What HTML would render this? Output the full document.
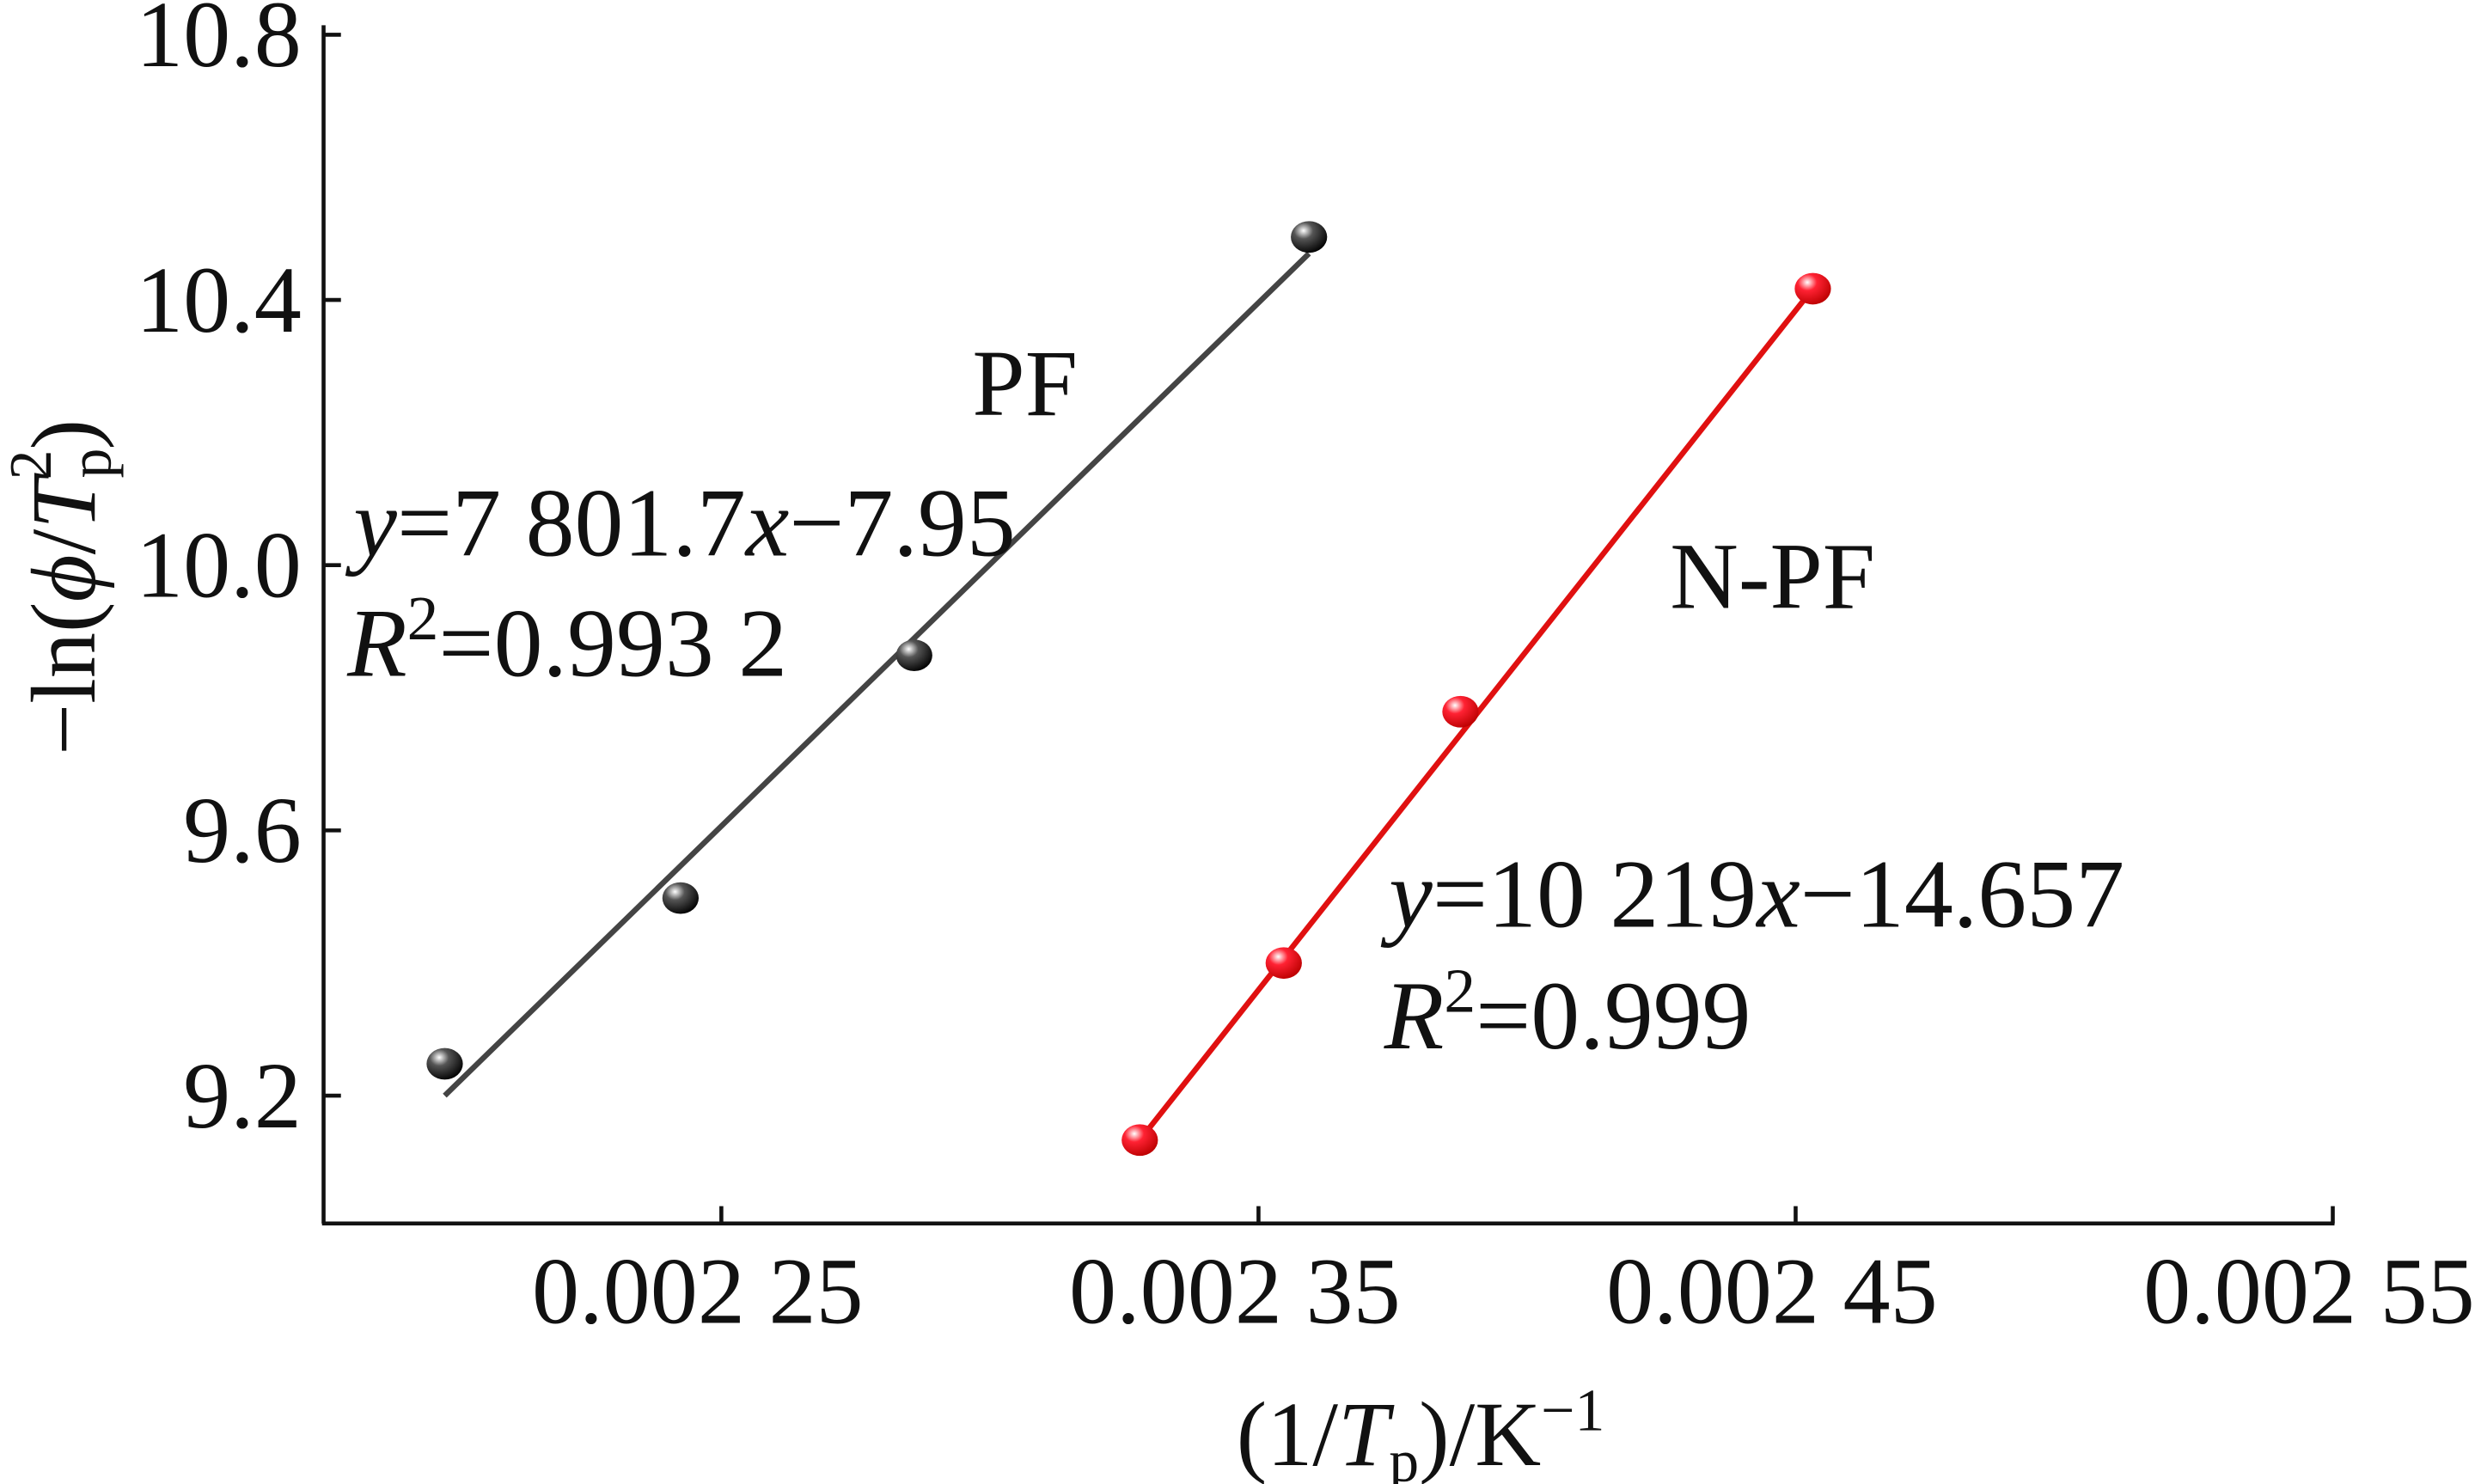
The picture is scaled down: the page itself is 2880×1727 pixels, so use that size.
<!DOCTYPE html>
<html><head><meta charset="utf-8"><style>
html,body{margin:0;padding:0;background:#fff;}
svg{display:block;}
text{font-family:"Liberation Serif",serif;fill:#111;}
</style></head><body>
<svg id="chart" width="2880" height="1727" viewBox="0 0 1568 940" preserveAspectRatio="none" xmlns="http://www.w3.org/2000/svg">
<defs>
<radialGradient id="gb" cx="0.35" cy="0.3" r="0.75"><stop offset="0" stop-color="#fff"/><stop offset="0.35" stop-color="#555"/><stop offset="1" stop-color="#000"/></radialGradient>
<radialGradient id="gr" cx="0.35" cy="0.3" r="0.75"><stop offset="0" stop-color="#fff"/><stop offset="0.35" stop-color="#f23"/><stop offset="1" stop-color="#b00"/></radialGradient>
</defs>
<g id="axes"></g>
<g id="series"></g>
<text transform="translate(60,372) rotate(-90)" text-anchor="middle" font-size="58">−ln(<tspan font-style="italic">ϕ</tspan>/<tspan font-style="italic">T</tspan><tspan font-size="38" dy="10">p</tspan><tspan font-size="38" dx="-20" dy="-38">2</tspan><tspan dy="28">)</tspan></text>
<text x="900" y="928" text-anchor="middle" font-size="58">(1/<tspan font-style="italic">T</tspan><tspan font-size="38" dy="10">p</tspan><tspan dy="-10">)/K</tspan><tspan font-size="38" dy="-22">−1</tspan></text>
<text x="616" y="263" font-size="60">PF</text>
<text x="1058" y="385" font-size="60">N-PF</text>
<text x="224" y="352" font-size="62"><tspan font-style="italic">y</tspan>=7 801.7<tspan font-style="italic">x</tspan>−7.95</text>
<text x="220" y="428" font-size="62"><tspan font-style="italic">R</tspan><tspan font-size="40" dy="-23">2</tspan><tspan dy="23">=0.993 2</tspan></text>
<text x="880" y="587" font-size="62"><tspan font-style="italic">y</tspan>=10 219<tspan font-style="italic">x</tspan>−14.657</text>
<text x="877" y="664" font-size="62"><tspan font-style="italic">R</tspan><tspan font-size="40" dy="-23">2</tspan><tspan dy="23">=0.999</tspan></text>
</svg>
<script>
const xTicks=[0.00225,0.00235,0.00245,0.00255];
const xTickLabels=["0.002 25","0.002 35","0.002 45","0.002 55"];
const yTicks=[9.2,9.6,10.0,10.4,10.8];
const yTickLabels=["9.2","9.6","10.0","10.4","10.8"];
const pfX=[0.0021985,0.0022424,0.0022859,0.0023594];
const pfY=[9.248,9.498,9.864,10.495];
const pfLineX=[0.0021985,0.0023594];
const pfLineY=[9.20,10.47];
const npfX=[0.0023279,0.0023547,0.0023876,0.0024532];
const npfY=[9.133,9.40,9.779,10.417];
const npfLineX=[0.0023279,0.0024532];
const npfLineY=[9.133,10.417];

const NS="http://www.w3.org/2000/svg";
function sx(v){return 457+(v-0.00225)/0.0001*340.3;}
function sy(v){return 190-(v-10.4)/0.4*168;}
function mk(tag,attrs,parent){const e=document.createElementNS(NS,tag);for(const k in attrs)e.setAttribute(k,attrs[k]);parent.appendChild(e);return e;}
const axes=document.getElementById('axes');
const series=document.getElementById('series');
let e=mk('line',{x1:205,y1:16,x2:205,y2:775,stroke:'#111','stroke-width':2.5},axes);


e=mk('line',{x1:204,y1:775,x2:1479,y2:775,stroke:'#111','stroke-width':2.5},axes);


yTicks.forEach((v,i)=>{
  const t=mk('line',{x1:205,x2:216,y1:sy(v),y2:sy(v),stroke:'#111','stroke-width':2.5},axes);
  
  
  const l=mk('text',{x:191,y:sy(v)+20,'text-anchor':'end','font-size':60},axes);
  l.textContent=yTickLabels[i];
  
  
});
xTicks.forEach((v,i)=>{
  const t=mk('line',{x1:sx(v),x2:sx(v),y1:775,y2:764,stroke:'#111','stroke-width':2.5},axes);
  
  
  const l=mk('text',{x:sx(v)-15,y:838,'text-anchor':'middle','font-size':60},axes);
  l.textContent=xTickLabels[i];
  
  
});
e=mk('line',{x1:sx(pfLineX[0]),y1:sy(pfLineY[0]),x2:sx(pfLineX[1]),y2:sy(pfLineY[1]),stroke:'#444','stroke-width':3.5},series);


e=mk('line',{x1:sx(npfLineX[0]),y1:sy(npfLineY[0]),x2:sx(npfLineX[1]),y2:sy(npfLineY[1]),stroke:'#e01010','stroke-width':3.5},series);


pfX.forEach((x,i)=>{
  const c=mk('ellipse',{cx:sx(x),cy:sy(pfY[i]),rx:11.5,ry:10,fill:'url(#gb)'},series);
  
  
});
npfX.forEach((x,i)=>{
  const c=mk('ellipse',{cx:sx(x),cy:sy(npfY[i]),rx:11.5,ry:10,fill:'url(#gr)'},series);
  
  
});
</script>
</body></html>
